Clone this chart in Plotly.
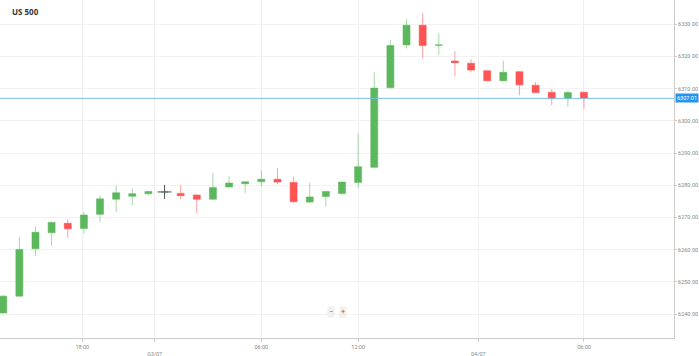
import plotly.graph_objects as go

# ---- data (hourly candles) ----
candle_idx = list(range(37))
opens = [6240.4, 6245.6, 6260.3, 6265.3, 6268.2, 6266.6, 6271.0, 6275.7, 6276.6, 6277.4,
         6277.9, 6277.5, 6277.0, 6275.7, 6279.5, 6280.5, 6281.1, 6281.9, 6280.9, 6274.8,
         6276.5, 6277.5, 6280.9, 6285.6, 6310.3, 6323.6, 6329.7, 6323.5, 6318.6, 6317.9,
         6315.6, 6312.5, 6315.3, 6311.1, 6308.9, 6306.9, 6308.9]
highs = [6246.0, 6264.0, 6267.1, 6268.7, 6269.5, 6271.8, 6276.9, 6279.9, 6279.1, 6278.3,
         6278.8, 6280.1, 6277.1, 6283.9, 6282.8, 6281.3, 6284.5, 6285.4, 6282.7, 6280.8,
         6278.3, 6281.2, 6296.1, 6315.1, 6325.1, 6331.6, 6333.6, 6327.2, 6321.7, 6319.2,
         6315.8, 6318.7, 6315.5, 6312.1, 6309.9, 6309.5, 6309.0]
lows = [6240.2, 6245.4, 6258.1, 6261.2, 6263.7, 6265.0, 6268.6, 6271.7, 6273.8, 6277.0,
        6276.5, 6275.7, 6271.3, 6275.5, 6279.4, 6277.7, 6279.6, 6280.4, 6274.8, 6274.6,
        6273.4, 6277.0, 6279.1, 6285.4, 6310.1, 6322.5, 6319.4, 6320.5, 6313.9, 6315.1,
        6312.3, 6312.3, 6308.0, 6308.6, 6304.9, 6304.4, 6303.8]
closes = [6245.6, 6260.1, 6265.4, 6268.5, 6266.5, 6270.8, 6275.8, 6277.7, 6277.4, 6278.1,
          6277.95, 6276.8, 6275.7, 6279.3, 6280.7, 6281.1, 6281.9, 6281.0, 6274.9, 6276.4,
          6278.1, 6281.0, 6285.8, 6310.2, 6323.4, 6329.7, 6323.4, 6323.6, 6318.1, 6315.8,
          6312.5, 6315.1, 6311.2, 6308.8, 6306.9, 6308.8, 6307.01]

cursor_idx = [10]  # crosshair shown over this candle

x_tick_pos = [4.9, 9.4, 16, 22, 29.45, 36]
x_tick_text = ["18:00", "<br>03/07", "06:00", "12:00", "<br>04/07", "06:00"]

y_tick_vals = [6240, 6250, 6260, 6270, 6280, 6290, 6300, 6310, 6320, 6330]
y_tick_text = ["%.2f" % v for v in y_tick_vals]

title_text = "US 500"

# ---- figure ----
fig = go.Figure()
fig.add_trace(go.Candlestick(
    x=candle_idx, open=opens, high=highs, low=lows, close=closes,
    increasing=dict(fillcolor="#5cb85c", line=dict(color="rgba(92,184,92,0.55)", width=1)),
    decreasing=dict(fillcolor="#ff5454", line=dict(color="rgba(255,84,84,0.55)", width=1)),
    whiskerwidth=0, hoverinfo="skip", showlegend=False,
))
fig.add_trace(go.Scatter(
    x=cursor_idx, y=[closes[i] for i in cursor_idx], mode="markers",
    marker=dict(symbol="cross-thin", size=10, line=dict(color="#555555", width=1)),
    hoverinfo="skip", showlegend=False,
))

last = closes[-1]
fig.add_shape(type="line", xref="paper", x0=0, x1=1, y0=last, y1=last,
              line=dict(color="#7fbcef", width=1))
fig.add_annotation(xref="paper", x=1, xanchor="left", xshift=1, y=last, yanchor="middle",
                   text="%.2f" % last, showarrow=False, bgcolor="#2196f3", borderpad=1,
                   font=dict(color="white", size=5.5, family="Roboto"))
fig.add_annotation(xref="paper", yref="paper", x=0.0148, y=0.9645, xanchor="left",
                   yanchor="middle", text="<b>%s</b>" % title_text, showarrow=False,
                   font=dict(size=8, color="#333333", family="Open Sans"))
for xp, t in [(0.4907, "−"), (0.5085, "+")]:
    fig.add_annotation(xref="paper", yref="paper", x=xp, y=0.059, text=t, showarrow=False,
                       bgcolor="#f0f0f0", borderpad=1,
                       font=dict(size=7, color="#666666", family="Roboto"))

fig.update_layout(
    width=699, height=356,
    margin=dict(l=0, r=25, t=0, b=18),
    paper_bgcolor="white", plot_bgcolor="white",
    boxgap=0.38,
    xaxis=dict(range=[-0.2, 41.58], tickmode="array", tickvals=x_tick_pos, ticktext=x_tick_text,
               showgrid=True, gridcolor="#eeeeee", gridwidth=1, zeroline=False,
               showline=True, linecolor="#cccccc", ticks="outside", ticklen=3,
               tickcolor="#cccccc", rangeslider=dict(visible=False),
               tickfont=dict(size=5.5, color="#888888", family="Roboto")),
    yaxis=dict(side="right", range=[6232.6, 6337.55], tickmode="array", tickvals=y_tick_vals,
               ticktext=y_tick_text, showgrid=True, gridcolor="#f2f2f2", zeroline=False,
               showline=True, linecolor="#cccccc", ticks="outside", ticklen=2,
               tickcolor="#cccccc",
               tickfont=dict(size=5.5, color="#888888", family="Roboto")),
)

fig.write_html("out.html", config={"displayModeBar": False},
               post_script="document.body.style.margin='0';document.body.style.overflow='hidden';")
